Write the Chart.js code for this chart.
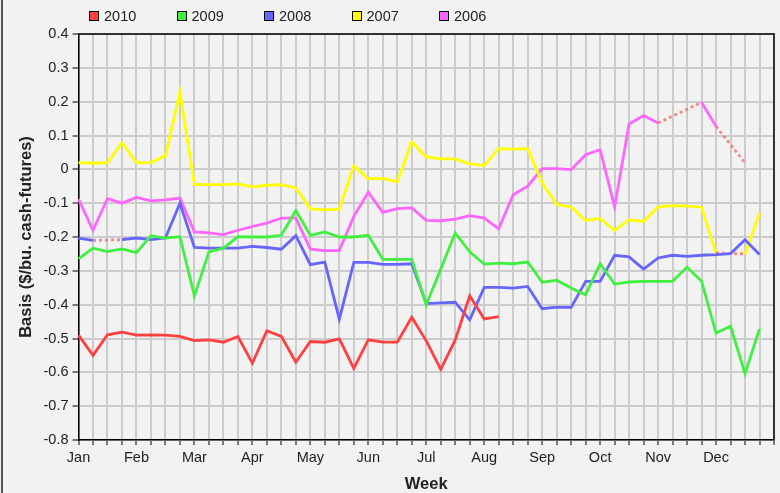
<!DOCTYPE html>
<html>
<head>
<meta charset="utf-8">
<script src="https://cdn.jsdelivr.net/npm/chart.js@4"></script>
<style>
    html, body { margin: 0; padding: 0; background: #f2f2f2; }
    #wrap { position: relative; width: 780px; height: 493px; }
    #edge { position: absolute; left: 1px; top: 0; width: 2px; height: 493px; background: #555; }
    #legend { position: absolute; left: 89px; top: 8px; display: flex; font: 14.5px 'Liberation Sans', Arial, sans-serif; color: #222; }
    #legend .item { width: 87.5px; display: flex; align-items: center; }
    #legend .box { width: 8px; height: 8px; border: 1px solid #000; margin-right: 5px; }
</style>
</head>
<body>
<div id="wrap">
    <canvas id="basisChart" width="780" height="493"></canvas>
    <div id="edge"></div>
    <div id="legend"></div>
</div>
<script>
// Weekly basis by year, 4 weeks per month (index 0 = first week of Jan)
const months = ['Jan', 'Feb', 'Mar', 'Apr', 'May', 'Jun', 'Jul', 'Aug', 'Sep', 'Oct', 'Nov', 'Dec'];
const years = ['2010', '2009', '2008', '2007', '2006'];

const basis2010 = [-0.49, -0.55, -0.489, -0.481, -0.49, -0.489, -0.49, -0.494, -0.506, -0.504, -0.511, -0.494,
    -0.573, -0.477, -0.494, -0.57, -0.509, -0.511, -0.501, -0.588, -0.504, -0.511, -0.511, -0.437,
    -0.507, -0.591, -0.504, -0.374, -0.442, -0.435];
const basis2009 = [-0.265, -0.233, -0.243, -0.235, -0.246, -0.196, -0.203, -0.199, -0.374, -0.244, -0.233, -0.199,
    -0.2, -0.2, -0.195, -0.122, -0.195, -0.185, -0.2, -0.2, -0.195, -0.266, -0.266, -0.266,
    -0.4, -0.295, -0.188, -0.244, -0.28, -0.277, -0.279, -0.274, -0.334, -0.328, -0.351, -0.371,
    -0.279, -0.339, -0.333, -0.331, -0.331, -0.331, -0.289, -0.331, -0.484, -0.464, -0.604, -0.472];
const basis2008 = [-0.203, -0.21, null, -0.208, -0.203, -0.208, -0.203, -0.1, -0.231, -0.233, -0.233, -0.233,
    -0.228, -0.231, -0.236, -0.196, -0.282, -0.274, -0.443, -0.275, -0.275, -0.281, -0.281, -0.279,
    -0.397, -0.395, -0.393, -0.445, -0.349, -0.349, -0.351, -0.346, -0.412, -0.407, -0.408, -0.331,
    -0.331, -0.254, -0.259, -0.295, -0.262, -0.254, -0.257, -0.254, -0.252, -0.249, -0.208, -0.252];
const basis2007 = [0.02, 0.018, 0.02, 0.078, 0.02, 0.02, 0.04, 0.228, -0.045, -0.045, -0.045, -0.043,
    -0.052, -0.047, -0.045, -0.055, -0.117, -0.12, -0.118, 0.011, -0.028, -0.027, -0.037, 0.081,
    0.037, 0.031, 0.031, 0.016, 0.011, 0.061, 0.06, 0.061, -0.04, -0.104, -0.111, -0.151,
    -0.145, -0.181, -0.149, -0.154, -0.111, -0.107, -0.109, -0.112, -0.247, null, -0.25, -0.129];
const basis2006 = [-0.088, -0.18, -0.087, -0.1, -0.083, -0.093, -0.09, -0.085, -0.185, -0.188, -0.193, -0.18,
    -0.169, -0.159, -0.144, -0.144, -0.236, -0.24, -0.24, -0.139, -0.068, -0.127, -0.116, -0.114,
    -0.151, -0.152, -0.147, -0.137, -0.144, -0.176, -0.075, -0.05, 0.002, 0.002, -0.001, 0.043,
    0.058, -0.111, 0.134, 0.159, 0.137, null, null, 0.198, 0.127, null, 0.019, null];

const yTicks = { min: -0.8, max: 0.4, step: 0.1 };

const colors = ['#ff4040', '#40f040', '#6666ff', '#ffff00', '#ff66ff'];
const gapColor = 'rgba(240,110,110,0.8)';

// one label per week, month name on the first week, plus a closing edge
const weekLabels = [];
months.forEach(m => weekLabels.push(m, '', '', ''));
weekLabels.push('');

const series = [basis2010, basis2009, basis2008, basis2007, basis2006];
const skipped = (ctx, value) => ctx.p0.skip || ctx.p1.skip ? value : undefined;

const font = { family: "'Liberation Sans', Arial, sans-serif", size: 14.5 };
const titleFont = { family: "'Liberation Sans', Arial, sans-serif", size: 16.5, weight: 'bold' };

const frame = {
    id: 'frame',
    afterDatasetsDraw(chart) {
        const { ctx, chartArea: a } = chart;
        ctx.save();
        ctx.strokeStyle = '#333';
        ctx.lineWidth = 2;
        ctx.beginPath();
        ctx.moveTo(a.left, a.top);
        ctx.lineTo(a.right, a.top);
        ctx.lineTo(a.right, a.bottom);
        ctx.stroke();
        ctx.restore();
    }
};

new Chart(document.getElementById('basisChart'), {
    type: 'line',
    data: {
        labels: weekLabels,
        datasets: series.map((d, i) => ({
            label: years[i],
            data: d,
            borderColor: colors[i],
            backgroundColor: colors[i],
            borderWidth: 2.8,
            pointRadius: 0,
            tension: 0,
            spanGaps: true,
            segment: {
                borderColor: ctx => skipped(ctx, gapColor),
                borderDash: ctx => skipped(ctx, [3, 3])
            }
        }))
    },
    options: {
        responsive: false,
        animation: false,
        layout: { padding: { left: 0, right: 6, top: 34, bottom: 0 } },
        plugins: { legend: { display: false }, tooltip: { enabled: false } },
        scales: {
            x: {
                offset: false,
                afterFit: s => { s.height = 53; },
                grid: { color: '#cccccc', lineWidth: 2, tickColor: '#000', tickLength: 5, tickWidth: 1 },
                border: { color: '#000', width: 1.5 },
                ticks: { autoSkip: false, maxRotation: 0, padding: 4, color: '#222', font },
                title: { display: true, text: 'Week', color: '#222', padding: { top: 0, bottom: -1.5 },
                    font: titleFont }
            },
            y: {
                min: yTicks.min,
                max: yTicks.max,
                afterFit: s => { s.width = 78.5; },
                grid: { color: '#cccccc', lineWidth: 2, tickColor: '#000', tickLength: 6, tickWidth: 1 },
                border: { color: '#000', width: 1.5 },
                ticks: { stepSize: yTicks.step, padding: 4, color: '#222', font,
                    callback: v => String(Math.round(v * 10) / 10) },
                title: { display: true, text: 'Basis ($/bu. cash-futures)', color: '#222', padding: { top: 17, bottom: 0 },
                    font: titleFont }
            }
        }
    },
    plugins: [frame]
});

const legend = document.getElementById('legend');
years.forEach((y, i) => {
    const item = document.createElement('div');
    item.className = 'item';
    item.innerHTML = `<span class="box" style="background:${colors[i]}"></span><span>${y}</span>`;
    legend.appendChild(item);
});
</script>
</body>
</html>
